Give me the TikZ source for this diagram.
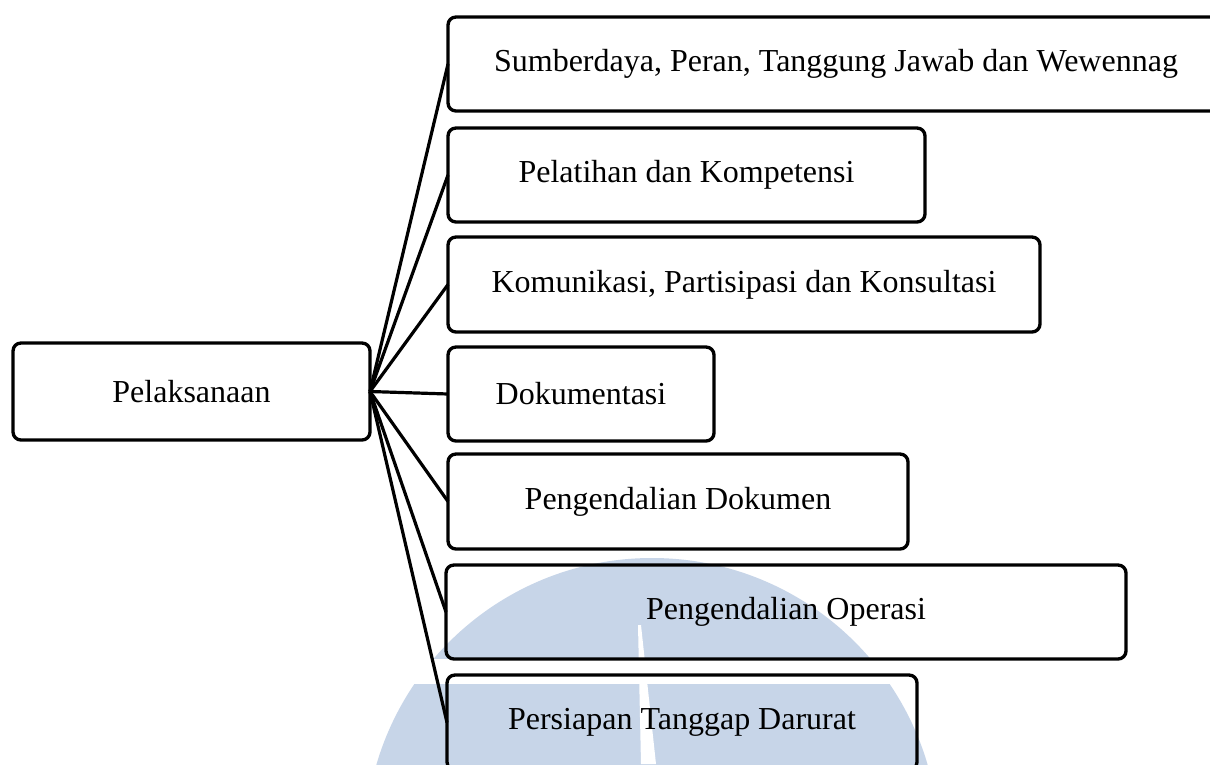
\documentclass[tikz,border=0pt]{standalone}
\usepackage{fontspec}
\setmainfont{Liberation Serif}
\definecolor{wmblue}{RGB}{199,213,232}
\tikzset{
  box/.style={draw=black, line width=2.5pt, rounded corners=6pt, inner sep=0pt, outer sep=0pt,
    font=\fontsize{24}{28}\selectfont, align=center},
  link/.style={draw=black, line width=2.4pt},
}
\begin{document}
\begin{tikzpicture}[x=0.75pt, y=-0.75pt]
\useasboundingbox (0,0) rectangle (1210,764);
\fill[white] (0,0) rectangle (1210,764);
% watermark
\begin{scope}
  \clip (0,0) rectangle (1210,764);
  \fill[wmblue] (652,845) circle [radius=215.25pt];
  \fill[white] (380,659) rectangle (940,684);
  \fill[white] (638,625) -- (641,625) -- (656,764) -- (641,764) -- cycle;
\end{scope}
% nodes
\node[box, minimum width=267.75pt, minimum height=72.75pt] (P) at (191.5,391.5) {Pelaksanaan};
\node[box, minimum width=600pt, minimum height=70.5pt] (B1) at (848,64) {Sumberdaya, Peran, Tanggung Jawab dan Wewennag\hspace*{18pt}};
\node[box, minimum width=357.75pt, minimum height=70.5pt] (B2) at (686.5,175) {Pelatihan dan Kompetensi};
\node[box, minimum width=444pt, minimum height=71.25pt] (B3) at (744,284.5) {Komunikasi, Partisipasi dan Konsultasi};
\node[box, minimum width=199.5pt, minimum height=70.5pt] (B4) at (581,394) {Dokumentasi};
\node[box, minimum width=345pt, minimum height=71.25pt] (B5) at (678,501.5) {Pengendalian Dokumen};
\node[box, minimum width=510pt, minimum height=70.5pt] (B6) at (786,612) {Pengendalian Operasi};
\node[box, minimum width=352.5pt, minimum height=71.25pt] (B7) at (682,722.5) {Persiapan Tanggap Darurat};
% connectors
\foreach \b in {B1,B2,B3,B4,B5,B6,B7}{
  \draw[link] (P.east) -- (\b.west);
}
\end{tikzpicture}
\end{document}
